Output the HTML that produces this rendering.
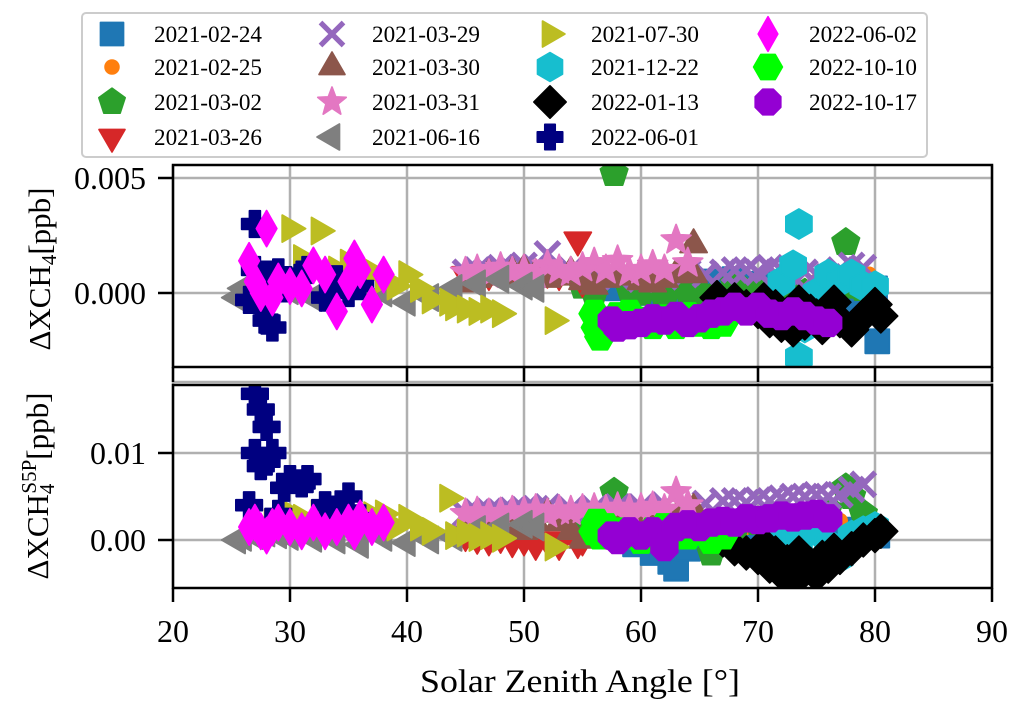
<!DOCTYPE html>
<html><head><meta charset="utf-8"><style>
html,body{margin:0;padding:0;background:#fff;}
svg{display:block;font-family:"Liberation Serif",serif;}
</style></head><body>
<svg id="chart" width="1019" height="713" viewBox="0 0 1019 713">
<defs>
<clipPath id="clipTop"><rect x="173" y="165" width="819" height="202"/></clipPath>
<clipPath id="clipBot"><rect x="173" y="385" width="819" height="203"/></clipPath>
</defs>
<g id="grid"></g>
<g id="marksTop" clip-path="url(#clipTop)"></g>
<g id="marksBot" clip-path="url(#clipBot)"></g>
<g id="axes"></g>
<text x="0" y="0" transform="translate(50,269) rotate(-90)" text-anchor="middle" font-size="31">ΔXCH<tspan font-size="21" dy="6">4</tspan><tspan dy="-6">[ppb]</tspan></text>
<text x="0" y="0" transform="translate(48,486) rotate(-90)" text-anchor="middle" font-size="31">ΔXCH<tspan font-size="21" dy="6">4</tspan><tspan font-size="21" dx="-10" dy="-18">S5P</tspan><tspan dy="12">[ppb]</tspan></text>
<text x="580" y="692" text-anchor="middle" font-size="33" textLength="320" lengthAdjust="spacingAndGlyphs">Solar Zenith Angle [°]</text>
<g id="legend">
<rect x="82" y="13" width="845" height="144" rx="4" fill="#fff" stroke="#cccccc" stroke-width="2"/>
</g>
</svg>
<script>
const NS="http://www.w3.org/2000/svg";
// ---- data (top values in units of 1e-3 ppb, bottom in 1e-3 ppb) ----
const dates=["2021-02-24","2021-02-25","2021-03-02","2021-03-26","2021-03-29","2021-03-30","2021-03-31","2021-06-16","2021-07-30","2021-12-22","2022-01-13","2022-06-01","2022-06-02","2022-10-10","2022-10-17"];
const x0224=[58,59.5,61,62.5,63,64,66,68,70,72,74,76,78,80,80.2];
const t0224=[0.2,0.1,0.0,-0.1,0.3,0.4,0.5,0.6,0.4,0.2,0.0,0.0,-0.3,0.2,-2.1];
const b0224=[0.5,-0.5,-1.5,-2.5,-3.3,-1.0,0.5,0.8,1.0,1.2,1.3,1.5,1.2,0.8,0.5];
const x0225=[63,65,67,69,71,73,75,77,79,79.5,80];
const t0225=[0.2,0.3,0.0,0.1,-0.1,0.2,0.5,0.3,0.6,0.8,0.2];
const b0225=[1.5,1.2,1.0,1.5,1.2,1.8,2.0,2.2,2.5,2.0,1.5];
const x0302=[55,56,57.7,59,60,62,63,64,65,66,68,70,72,74,76,77.5,78,79];
const t0302=[0.3,0.0,5.2,0.2,0.0,-0.2,0.3,0.1,0.0,-0.2,0.4,0.2,0.3,0.0,-0.3,2.2,0.3,0.2];
const b0302=[1.0,2.0,5.5,1.5,0.5,-0.5,0.5,3.0,2.0,-1.5,1.0,2.0,3.0,2.5,3.5,6.0,5.0,3.0];
const x0326=[45,46,47,48,49,50,51,52,53,54.6,55];
const t0326=[0.8,0.9,0.8,1.0,0.9,0.8,1.0,0.9,0.8,2.3,0.5];
const b0326=[0.5,0.2,0.0,0.3,-0.2,0.0,-0.5,0.0,-0.5,-0.3,0.0];
const x0329=[45,46,47,48,49,50,51,52,54,56,58,60,62,64,65.5,67,68,69,70,71,72,73,74,75,76,77,78,79];
const t0329=[0.9,1.0,0.9,1.1,1.0,1.2,1.1,1.7,1.0,0.8,0.7,0.6,0.7,0.9,0.8,0.9,1.0,1.0,0.9,1.1,1.0,0.7,0.9,0.8,0.7,1.0,1.2,1.1];
const b0329=[3.0,3.2,3.3,3.2,3.4,3.5,3.6,3.8,3.5,3.6,3.8,3.8,4.0,3.9,4.2,4.5,4.5,4.3,4.6,4.5,4.8,5.0,5.0,5.2,5.0,5.2,5.8,6.4];
const x0330=[45,46,47,48,49,50,51,52,53,54,55,56,57,58,59,60,61,62,63,64.5,64.5];
const t0330=[0.4,0.6,0.8,0.7,0.9,1.0,0.8,0.6,0.7,0.9,0.5,0.3,0.6,0.8,0.7,0.5,0.4,0.6,0.8,2.1,0.8];
const b0330=[1.0,2.0,1.5,2.5,1.5,1.0,2.0,3.0,2.0,1.0,0.0,1.5,2.0,2.0,2.5,3.0,2.5,2.0,2.5,3.5,2.8];
const x0331=[45,46,47,48,49,50,51,52,53,54,55,56,57,58,59,60,61,62,63,64];
const t0331=[0.9,1.0,0.8,1.1,0.9,1.0,0.8,1.2,1.0,0.9,1.1,1.3,1.0,1.4,0.9,1.0,1.2,1.0,2.3,1.3];
const b0331=[3.0,3.2,3.0,3.1,3.3,3.2,3.5,3.0,3.4,3.3,3.5,3.6,3.4,3.7,3.5,3.6,3.8,3.5,5.5,4.0];
const x0616=[25.5,26,27,28,29,30,32,34,36,38,40,42,44,46,48,50,51];
const t0616=[-0.2,0.2,-0.5,0.0,0.3,0.1,-0.2,0.3,0.2,0.0,-0.4,-0.2,0.2,0.4,0.6,0.3,0.2];
const b0616=[0.0,0.3,0.5,0.8,0.6,0.4,0.2,0.0,-0.5,0.3,-0.3,0.0,0.3,1.2,1.5,1.8,1.5];
const x0730=[28.5,30,31,32.5,34,35,36,37,38,39,40,41,42,43.5,44,45,46,47,48,52.5];
const t0730=[0.6,2.8,1.5,2.7,1.0,1.3,0.8,0.9,0.6,0.3,0.8,0.2,-0.3,-0.4,-0.6,-0.7,-0.8,-0.7,-0.9,-1.2];
const b0730=[2.0,3.0,2.5,3.0,3.5,3.0,2.5,2.8,3.0,1.5,2.5,1.5,1.0,4.8,0.5,0.8,0.3,0.5,0.2,-0.8];
const x1222=[71,72,73,73.5,73.5,74,75,76,77,78,79,80];
const t1222=[-0.5,0.5,1.2,3.0,-2.8,-1.5,0.0,0.8,0.5,0.8,0.3,0.3];
const b1222=[0.5,1.0,0.0,-1.0,0.5,1.5,1.0,-0.5,-2.0,0.5,1.0,1.5];
const x0113=[66.5,67,68,69,70,70.5,71,71.5,72,72.5,73,73.5,74,74.5,75,75.5,76,76.5,77,78,79,80,80.5];
const t0113=[-0.2,-0.5,-0.3,-0.6,-0.8,-0.3,-1.2,-0.6,-1.4,-0.9,-1.6,-0.4,-1.3,-0.8,-1.0,-1.5,-0.8,-0.4,-1.2,-1.6,-1.0,-0.5,-1.0];
const b0113=[0.5,0.0,-1.0,-1.5,-2.0,-0.5,-3.0,-1.5,-3.8,-2.5,-4.5,-1.5,-3.5,-2.8,-4.0,-2.0,-3.0,-1.2,-2.0,-1.0,0.0,0.5,1.0];
const x0601=[26.5,27,27,27.5,27.5,28,28,28.5,29,29.5,30,31,31.5,33,34,35,36];
const t0601=[-0.3,3.0,1.0,0.5,-0.5,-1.2,0.8,-1.5,0.9,0.2,0.5,0.8,1.0,-0.2,0.6,0.0,0.3];
const b0601=[4.0,10.0,16.8,15.0,8.5,13.0,9.0,10.0,3.0,6.0,7.0,6.5,7.0,4.0,3.5,5.0,2.5];
const x0602=[26.5,27,27.5,28,28.5,29,30,31,32,33,34,35,35.5,36,37,38];
const t0602=[1.4,0.5,0.0,2.8,-0.2,0.5,0.3,0.2,1.2,0.8,-0.8,0.5,1.5,1.0,-0.5,0.8];
const b0602=[1.5,2.0,1.0,0.5,1.5,2.0,1.5,1.0,2.0,1.0,1.5,2.0,1.0,2.5,1.5,2.0];
const x1010=[56,56.2,56.5,57,58,59,60,61,62,63,64,65,66,67];
const t1010=[-0.9,-1.5,-1.9,-1.2,-1.0,-0.9,-1.2,-1.4,-1.1,-1.4,-1.0,-1.3,-1.4,-1.3];
const b1010=[1.0,2.0,0.5,1.5,1.0,0.5,0.0,1.0,1.5,0.5,0.5,1.0,0.0,0.5];
const x1017=[57.5,58,59,60,61,62,63,64,65,66,67,68,69,70,71,72,73,74,75,76];
const t1017=[-1.2,-1.5,-1.4,-1.3,-1.1,-1.2,-1.0,-1.3,-1.1,-0.9,-0.8,-0.6,-0.8,-0.6,-0.9,-1.0,-0.8,-1.0,-1.2,-1.3];
const b1017=[0.5,0.0,1.0,0.5,1.0,-0.8,1.5,1.8,1.5,2.0,2.2,2.0,2.5,2.3,2.5,2.8,2.6,2.8,3.0,2.5];
const xTicks=[20,30,40,50,60,70,80,90];
const topTicks=[0,5];
const topTickLabels=["0.000","0.005"];
const botTicks=[0,10];
const botTickLabels=["0.00","0.01"];

const seriesX=[x0224,x0225,x0302,x0326,x0329,x0330,x0331,x0616,x0730,x1222,x0113,x0601,x0602,x1010,x1017];
const seriesT=[t0224,t0225,t0302,t0326,t0329,t0330,t0331,t0616,t0730,t1222,t0113,t0601,t0602,t1010,t1017];
const seriesB=[b0224,b0225,b0302,b0326,b0329,b0330,b0331,b0616,b0730,b1222,b0113,b0601,b0602,b1010,b1017];
const colors=["#1f77b4","#ff7f0e","#2ca02c","#d62728","#9467bd","#8c564b","#e377c2","#7f7f7f","#bcbd22","#17becf","#000000","#000080","#ff00ff","#00ff00","#9400d3"];
const shapes=["s","o","p","v","x","^","*","<",">","h","D","P","d","H","8"];

// axis functions
function sx(v){return 173+(v-20)*(819/70);}
function syT(v){return 293-v*23;}
function syB(v){return 540-v*8.7;}

function poly(n,r,rot){let p=[];for(let i=0;i<n;i++){const a=rot+i*2*Math.PI/n;p.push((r*Math.cos(a)).toFixed(2)+","+(r*Math.sin(a)).toFixed(2));}return "M"+p.join("L")+"Z";}
function shapePath(s){
  switch(s){
    case "s":return "M-10,-10H10V10H-10Z";
    case "o":return "M-6,0A6,6 0 1 0 6,0A6,6 0 1 0 -6,0Z";
    case "p":return poly(5,12,-Math.PI/2);
    case "v":return poly(3,13,Math.PI/2);
    case "^":return poly(3,13,-Math.PI/2);
    case "<":return poly(3,13,Math.PI);
    case ">":return poly(3,13,0);
    case "h":return poly(6,12.5,-Math.PI/2);
    case "H":return poly(6,12.5,0);
    case "8":return poly(8,12,Math.PI/8);
    case "D":return "M0,-14L14,0L0,14L-14,0Z";
    case "d":return "M0,-15L8.5,0L0,15L-8.5,0Z";
    case "P":{const a=4.5,b=11;return `M${-a},${-b}H${a}V${-a}H${b}V${a}H${a}V${b}H${-a}V${a}H${-b}V${-a}H${-a}Z`;}
    case "*":{let p=[];for(let i=0;i<10;i++){const r=i%2?5.5:13;const a=-Math.PI/2+i*Math.PI/5;p.push((r*Math.cos(a)).toFixed(2)+","+(r*Math.sin(a)).toFixed(2));}return "M"+p.join("L")+"Z";}
    case "x":return "M-10,-10L10,10M-10,10L10,-10";
  }
}
function marker(parent,s,c,x,y,sc){
  const p=document.createElementNS(NS,"path");
  p.setAttribute("d",shapePath(s));
  p.setAttribute("transform",`translate(${x.toFixed(1)},${y.toFixed(1)}) scale(${sc})`);
  if(s==="x"){p.setAttribute("fill","none");p.setAttribute("stroke",c);p.setAttribute("stroke-width","4.5");}
  else{p.setAttribute("fill",c);p.setAttribute("stroke",c);p.setAttribute("stroke-width","1.5");p.setAttribute("stroke-linejoin","round");}
  parent.appendChild(p);
  return p;
}
function line(parent,x1,y1,x2,y2,col,w){
  const l=document.createElementNS(NS,"line");
  l.setAttribute("x1",x1);l.setAttribute("y1",y1);l.setAttribute("x2",x2);l.setAttribute("y2",y2);
  l.setAttribute("stroke",col);l.setAttribute("stroke-width",w);
  parent.appendChild(l);return l;
}
function text(parent,x,y,str,size,anchor){
  const t=document.createElementNS(NS,"text");
  t.setAttribute("x",x);t.setAttribute("y",y);t.setAttribute("font-size",size);
  t.setAttribute("text-anchor",anchor);t.textContent=str;parent.appendChild(t);return t;
}

const grid=document.getElementById("grid");
xTicks.forEach(v=>{const l=line(grid,sx(v),165,sx(v),588,"#b0b0b0",2.5);

});
topTicks.forEach(v=>{const l=line(grid,173,syT(v),992,syT(v),"#b0b0b0",2.5);

});
botTicks.forEach(v=>{const l=line(grid,173,syB(v),992,syB(v),"#b0b0b0",2.5);

});
line(grid,173,382,992,382,"#b0b0b0",2.5);

const gT=document.getElementById("marksTop"),gB=document.getElementById("marksBot");
for(let s=0;s<dates.length;s++){
  const xs=seriesX[s],ts=seriesT[s],bs=seriesB[s];
  for(let i=0;i<xs.length;i++){
    const m1=marker(gT,shapes[s],colors[s],sx(xs[i]),syT(ts[i]),1.2);
    
    
    const m2=marker(gB,shapes[s],colors[s],sx(xs[i]),syB(bs[i]),1.2);
    
    
  }
}

const ax=document.getElementById("axes");
function box(y1,y2){
  const r=document.createElementNS(NS,"rect");
  r.setAttribute("x",173);r.setAttribute("y",y1);r.setAttribute("width",819);r.setAttribute("height",y2-y1);
  r.setAttribute("fill","none");r.setAttribute("stroke","#000");r.setAttribute("stroke-width","2.5");
  ax.appendChild(r);return r;
}
const b1=box(165,367);


const b2=box(385,588);


xTicks.forEach(v=>{
  line(ax,sx(v),367,sx(v),382,"#000",2.5);
  line(ax,sx(v),588,sx(v),602,"#000",2.5);
  const t=text(ax,sx(v),642,String(v),32,"middle");
  
  
});
topTicks.forEach((v,i)=>{
  line(ax,158,syT(v),173,syT(v),"#000",2.5);
  const t=text(ax,146,syT(v)+11,topTickLabels[i],32,"end");
  
  
});
botTicks.forEach((v,i)=>{
  line(ax,158,syB(v),173,syB(v),"#000",2.5);
  const t=text(ax,146,syB(v)+11,botTickLabels[i],32,"end");
  
  
});

const lg=document.getElementById("legend");
const colMX=[112,332,550,768],colTX=[154,372,591,809],rowY=[34,67,102,137];
const perCol=[4,4,4,3];
let k=0;
for(let c=0;c<4;c++){for(let r=0;r<perCol[c];r++){
  const g=document.createElementNS(NS,"g");
  
  
  lg.appendChild(g);
  marker(g,shapes[k],colors[k],colMX[c],rowY[r],1.15);
  const t=text(g,colTX[c],rowY[r]+8,dates[k],23,"start");
  t.setAttribute("textLength","108");
  t.setAttribute("lengthAdjust","spacingAndGlyphs");
  k++;
}}
</script>
</body></html>
